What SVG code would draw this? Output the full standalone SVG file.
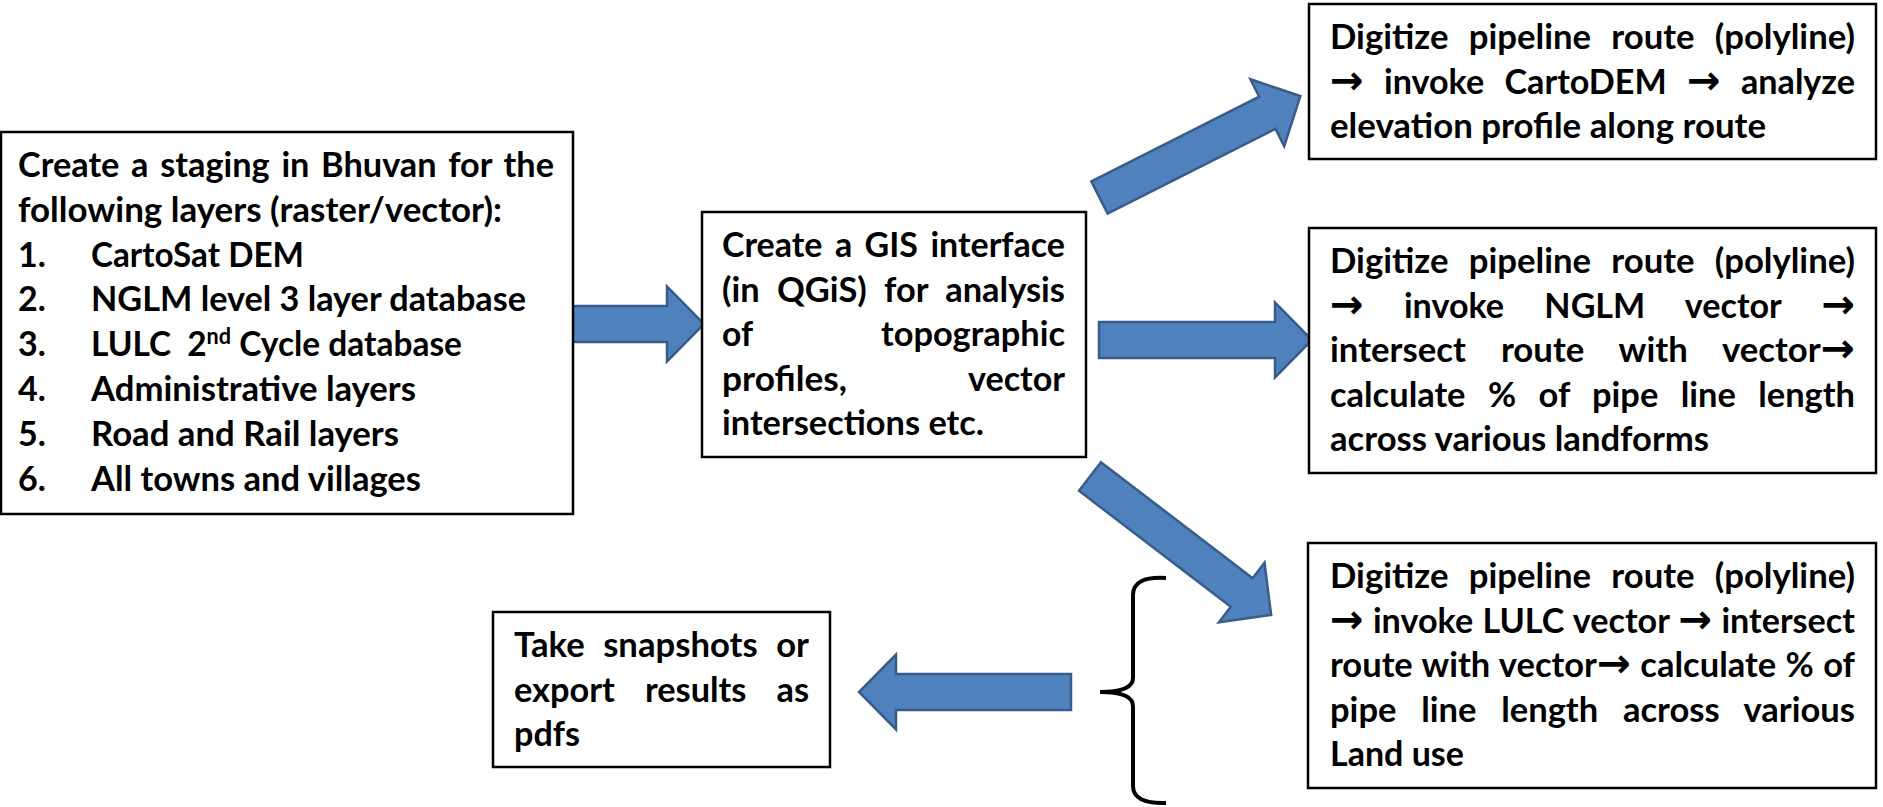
<svg xmlns="http://www.w3.org/2000/svg" width="1883" height="807" viewBox="0 0 1883 807">
<style>
.box{fill:#fff;stroke:#000;stroke-width:2.5}
.t{font-family:Lato,"Open Sans","Liberation Sans",sans-serif;font-weight:700;font-size:34px;fill:#000}
.ar{font-family:"DejaVu Sans",sans-serif;font-weight:700;font-size:40px}
.arr{fill:#4F81BD;stroke:#385D8A;stroke-width:2.5;stroke-linejoin:miter}
.brace{fill:none;stroke:#000;stroke-width:4;stroke-linecap:butt}
</style>
<rect width="1883" height="807" fill="#fff"/>
<g id="connectors">
<path class="arr" transform="translate(572,324)" d="M0,-18 H95 V-37.5 L132,0 L95,37.5 V18 H0 Z"/>
<path class="arr" transform="translate(1099,340)" d="M0,-18 H176 V-37.5 L213,0 L176,37.5 V18 H0 Z"/>
<path class="arr" transform="translate(1099.5,197.5) rotate(-26.8)" d="M0,-18 H188 V-37.5 L225,0 L188,37.5 V18 H0 Z"/>
<path class="arr" transform="translate(1090,476.5) rotate(37.4)" d="M0,-18 H191 V-37.5 L228,0 L191,37.5 V18 H0 Z"/>
<path class="arr" transform="translate(1071,692) rotate(180)" d="M0,-18 H175 V-37.5 L212,0 L175,37.5 V18 H0 Z"/>
<path class="brace" d="M1166,578 Q1133,576 1133,595 V678 Q1133,692 1100,692 Q1133,692 1133,706 V786 Q1133,804 1166,803"/>
</g>
<g id="staging">
<rect class="box" x="1" y="132" width="572" height="382"/>
<text class="t" x="18" y="177" textLength="536" lengthAdjust="spacingAndGlyphs" word-spacing="3.3">Create a staging in Bhuvan for the</text>
<text class="t" x="18" y="221.8" textLength="484" lengthAdjust="spacingAndGlyphs">following layers (raster/vector):</text>
<text class="t" x="18" y="266.6">1.</text>
<text class="t" x="18" y="311.4">2.</text>
<text class="t" x="18" y="356.2">3.</text>
<text class="t" x="18" y="401">4.</text>
<text class="t" x="18" y="445.8">5.</text>
<text class="t" x="18" y="490.6">6.</text>
<text class="t" x="91" y="266.6" textLength="213" lengthAdjust="spacingAndGlyphs">CartoSat DEM</text>
<text class="t" x="91" y="311.4" textLength="435" lengthAdjust="spacingAndGlyphs">NGLM level 3 layer database</text>
<text class="t" x="91" y="356.2" textLength="371" lengthAdjust="spacingAndGlyphs">LULC <tspan dx="8">2</tspan><tspan dy="-12" font-size="22">nd</tspan><tspan dy="12"> Cycle database</tspan></text>
<text class="t" x="91" y="401" textLength="325" lengthAdjust="spacingAndGlyphs">Administrative layers</text>
<text class="t" x="91" y="445.8" textLength="308" lengthAdjust="spacingAndGlyphs">Road and Rail layers</text>
<text class="t" x="91" y="490.6" textLength="330" lengthAdjust="spacingAndGlyphs">All towns and villages</text>
</g>
<g id="gis">
<rect class="box" x="702" y="212" width="384" height="245"/>
<text class="t" x="722" y="257" textLength="343" lengthAdjust="spacingAndGlyphs" word-spacing="4.2">Create a GIS interface</text>
<text class="t" x="722" y="301.5" textLength="343" lengthAdjust="spacingAndGlyphs" word-spacing="8.8">(in QGiS) for analysis</text>
<text class="t" x="722" y="346" textLength="31" lengthAdjust="spacingAndGlyphs">of</text>
<text class="t" x="1065" y="346" text-anchor="end" textLength="184" lengthAdjust="spacingAndGlyphs">topographic</text>
<text class="t" x="722" y="390.5" textLength="125" lengthAdjust="spacingAndGlyphs">profiles,</text>
<text class="t" x="1065" y="390.5" text-anchor="end" textLength="97" lengthAdjust="spacingAndGlyphs">vector</text>
<text class="t" x="722" y="435" textLength="262" lengthAdjust="spacingAndGlyphs">intersections etc.</text>
</g>
<g id="elevation">
<rect class="box" x="1309" y="4" width="567" height="155"/>
<text class="t" x="1330" y="49" textLength="525" lengthAdjust="spacingAndGlyphs" word-spacing="11.6">Digitize pipeline route (polyline)</text>
<text class="t" x="1330" y="93.5" textLength="525" lengthAdjust="spacingAndGlyphs" word-spacing="12"><tspan class="ar">→</tspan> invoke CartoDEM <tspan class="ar">→</tspan> analyze</text>
<text class="t" x="1330" y="138" textLength="436" lengthAdjust="spacingAndGlyphs">elevation profile along route</text>
</g>
<g id="landforms">
<rect class="box" x="1309" y="228" width="567" height="245"/>
<text class="t" x="1330" y="273" textLength="525" lengthAdjust="spacingAndGlyphs" word-spacing="11.6">Digitize pipeline route (polyline)</text>
<text class="t" x="1330" y="317.5" textLength="525" lengthAdjust="spacingAndGlyphs" word-spacing="32"><tspan class="ar">→</tspan> invoke NGLM vector <tspan class="ar">→</tspan></text>
<text class="t" x="1330" y="362" textLength="525" lengthAdjust="spacingAndGlyphs" word-spacing="26">intersect route with vector<tspan class="ar">→</tspan></text>
<text class="t" x="1330" y="406.5" textLength="525" lengthAdjust="spacingAndGlyphs" word-spacing="13.9">calculate % of pipe line length</text>
<text class="t" x="1330" y="451" textLength="379" lengthAdjust="spacingAndGlyphs">across various landforms</text>
</g>
<g id="landuse">
<rect class="box" x="1308" y="543" width="568" height="245"/>
<text class="t" x="1330" y="588" textLength="525" lengthAdjust="spacingAndGlyphs" word-spacing="11.6">Digitize pipeline route (polyline)</text>
<text class="t" x="1330" y="632.5" textLength="525" lengthAdjust="spacingAndGlyphs" word-spacing="1"><tspan class="ar">→</tspan> invoke LULC vector <tspan class="ar">→</tspan> intersect</text>
<text class="t" x="1330" y="677" textLength="525" lengthAdjust="spacingAndGlyphs" word-spacing="1">route with vector<tspan class="ar">→</tspan> calculate % of</text>
<text class="t" x="1330" y="721.5" textLength="525" lengthAdjust="spacingAndGlyphs" word-spacing="16.1">pipe line length across various</text>
<text class="t" x="1330" y="766" textLength="134" lengthAdjust="spacingAndGlyphs">Land use</text>
</g>
<g id="export">
<rect class="box" x="493" y="612" width="337" height="155"/>
<text class="t" x="514" y="657" textLength="295" lengthAdjust="spacingAndGlyphs" word-spacing="9.8">Take snapshots or</text>
<text class="t" x="514" y="701.5" textLength="295" lengthAdjust="spacingAndGlyphs" word-spacing="21.4">export results as</text>
<text class="t" x="514" y="746" textLength="66" lengthAdjust="spacingAndGlyphs">pdfs</text>
</g>
</svg>
